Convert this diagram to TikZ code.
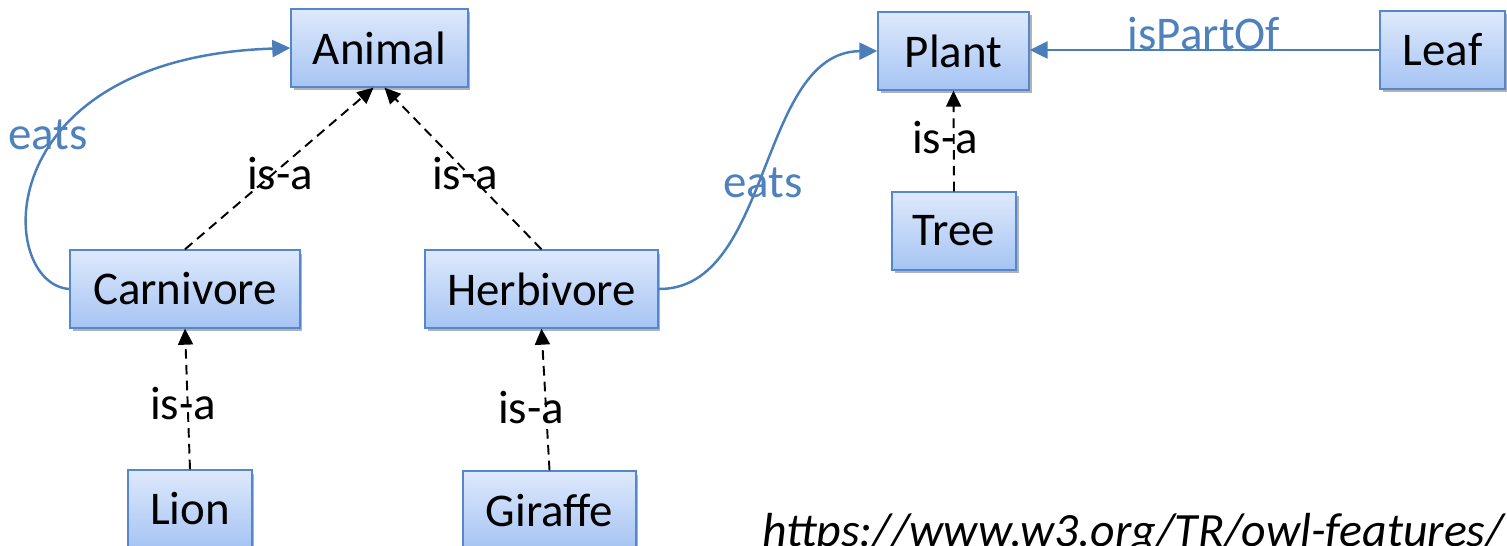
\documentclass[tikz,border=0pt]{standalone}
\usepackage{fontspec}
\setmainfont{Carlito}
\usetikzlibrary{arrows.meta,shadows}
\definecolor{edgeblue}{RGB}{74,126,187}
\definecolor{textblue}{RGB}{79,129,189}
\definecolor{boxline}{RGB}{84,135,205}
\definecolor{boxtop}{RGB}{222,233,252}
\definecolor{boxbot}{RGB}{166,196,243}
\begin{document}
\begin{tikzpicture}[x=0.02cm,y=-0.02cm,
  font=\fontsize{26.7}{32}\selectfont,
  cls/.style={draw=boxline, line width=0.8pt, top color=boxtop, bottom color=boxbot,
    minimum height=1.56cm, inner sep=0pt,
    drop shadow={shadow xshift=0.05cm, shadow yshift=-0.07cm, opacity=0.3, fill=black}},
  isa/.style={draw=black, line width=1.1pt, dash pattern=on 5.5pt off 3.5pt,
    -{Triangle[length=3.2mm,width=3mm]}},
  rel/.style={draw=edgeblue, line width=1.4pt, -{Triangle[length=3.6mm,width=3.4mm]}},
  isalabel/.style={text=black, inner sep=0pt},
  rellabel/.style={text=textblue, inner sep=0pt}]
\useasboundingbox (0,0) rectangle (1507,546);

% class boxes
\node[cls, minimum width=3.54cm] (animal)    at (379.5,48)  {Animal};
\node[cls, minimum width=4.60cm] (carnivore) at (185,289)   {Carnivore};
\node[cls, minimum width=4.66cm] (herbivore) at (541.5,289) {Herbivore};
\node[cls, minimum width=2.48cm] (lion)      at (190,509)   {Lion};
\node[cls, minimum width=3.46cm] (giraffe)   at (549.5,510) {Giraffe};
\node[cls, minimum width=3.02cm] (plant)     at (953.5,51)  {Plant};
\node[cls, minimum width=2.48cm] (tree)      at (954,231)   {Tree};
\node[cls, minimum width=2.50cm] (leaf)      at (1442.5,50) {Leaf};

% subclass links
\draw[isa] (carnivore.north) -- ([xshift=-0.12cm]animal.south);
\draw[isa] (herbivore.north) -- ([xshift=0.1cm]animal.south);
\draw[isa] (lion.north) -- (carnivore.south);
\draw[isa] (giraffe.north) -- (herbivore.south);
\draw[isa] (tree.north) -- (plant.south);

\node[isalabel] (l1) at (280,174) {is-a};
\node[isalabel] (l2) at (465,174) {is-a};
\node[isalabel] (l3) at (183,404) {is-a};
\node[isalabel] (l4) at (531,408) {is-a};
\node[isalabel] (l5) at (945,138) {is-a};

% object properties
\draw[rel] (carnivore.west) .. controls (-4,284) and (-14,58) .. (animal.west);
\draw[rel] (herbivore.east) .. controls (772,290) and (758,52) .. (plant.west);
\draw[rel] (leaf.west) -- (plant.east |- leaf.west);

\node[rellabel] (e1) at (48,135) {eats};
\node[rellabel] (e2) at (763,183) {eats};
\node[rellabel] (p1) at (1204,34) {isPartOf};

% source
\node[anchor=base west, inner sep=0pt, font=\fontsize{27.2}{32}\selectfont\itshape] (src)
  at (762,547) {https://www.w3.org/TR/owl-features/};
\end{tikzpicture}
\end{document}
